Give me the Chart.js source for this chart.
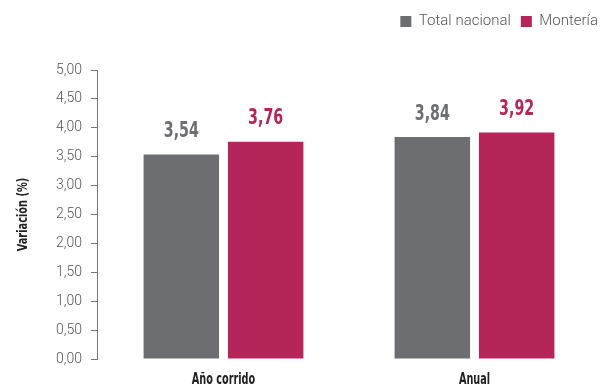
<!DOCTYPE html>
<html>
<head>
<meta charset="utf-8">
<script src="https://cdn.jsdelivr.net/npm/chart.js@4"></script>
<style>
  html, body { margin: 0; padding: 0; background: #fff; }
  #wrap { width: 600px; height: 387px; }
</style>
</head>
<body>
<div id="wrap"><canvas id="chart"></canvas></div>
<script>
const categories = ['Año corrido', 'Anual'];
const totalNacional = [3.54, 3.84];
const monteria = [3.76, 3.92];
const yTicks = [0, 0.5, 1, 1.5, 2, 2.5, 3, 3.5, 4, 4.5, 5];
const yTitle = 'Variación (%)';

const grey = '#6d6e71';
const pink = '#b5255a';
const condensed = '"DejaVu Sans Condensed", "Liberation Sans Narrow", sans-serif';

const fmt = v => v.toFixed(2).replace('.', ',');

// draws text squeezed horizontally, to mimic the condensed face of the original
function narrowText(ctx, text, x, y, size, color, squeeze, angle) {
  ctx.save();
  ctx.translate(x, y);
  if (angle) ctx.rotate(angle);
  ctx.scale(squeeze, 1);
  ctx.font = 'bold ' + size + 'px ' + condensed;
  ctx.textAlign = 'center';
  ctx.textBaseline = 'middle';
  ctx.fillStyle = color;
  ctx.fillText(text, 0, 0);
  ctx.restore();
}

const condensedText = {
  id: 'condensedText',
  afterDatasetsDraw(chart) {
    const ctx = chart.ctx;
    const area = chart.chartArea;
    // value labels above each bar
    chart.data.datasets.forEach((ds, i) => {
      chart.getDatasetMeta(i).data.forEach((bar, j) => {
        narrowText(ctx, fmt(ds.data[j]), bar.x, bar.y - 23, 22, ds.backgroundColor, 0.72);
      });
    });
    // category labels
    const x = chart.scales.x;
    categories.forEach((c, i) => {
      narrowText(ctx, c, x.getPixelForTick(i), 380, 15, '#222', 0.72);
    });
    // y axis title
    narrowText(ctx, yTitle, 23, (area.top + area.bottom) / 2, 14, '#222', 0.78, -Math.PI / 2);
  }
};

// push the plot down below the legend
const legendSpace = {
  id: 'legendSpace',
  beforeInit(chart) {
    const fit = chart.legend.fit;
    chart.legend.fit = function () {
      fit.bind(chart.legend)();
      this.height += 31;
    };
  }
};

new Chart(document.getElementById('chart'), {
  type: 'bar',
  data: {
    labels: categories,
    datasets: [
      { label: 'Total nacional', data: totalNacional, backgroundColor: grey },
      { label: 'Montería', data: monteria, backgroundColor: pink }
    ]
  },
  options: {
    responsive: true,
    maintainAspectRatio: false,
    animation: false,
    layout: { padding: { left: 47, right: -8, top: 4, bottom: 28 } },
    datasets: {
      bar: { categoryPercentage: 0.672, barPercentage: 0.895 }
    },
    plugins: {
      legend: {
        position: 'top',
        align: 'end',
        labels: {
          boxWidth: 11,
          boxHeight: 11,
          padding: 10,
          color: '#555',
          font: { family: 'Roboto', size: 15, weight: 300 }
        }
      },
      tooltip: { enabled: false }
    },
    scales: {
      x: {
        grid: { display: false, tickLength: 0 },
        border: { display: false },
        ticks: { display: false }
      },
      y: {
        min: 0,
        max: 5,
        afterBuildTicks: axis => { axis.ticks = yTicks.map(v => ({ value: v })); },
        grid: { drawOnChartArea: false, tickLength: 7, color: '#777' },
        border: { display: true, color: '#777' },
        ticks: {
          color: '#555',
          padding: 9,
          font: { family: 'Roboto', size: 14, weight: 300 },
          callback: v => fmt(v)
        }
      }
    }
  },
  plugins: [condensedText, legendSpace]
});
</script>
</body>
</html>
